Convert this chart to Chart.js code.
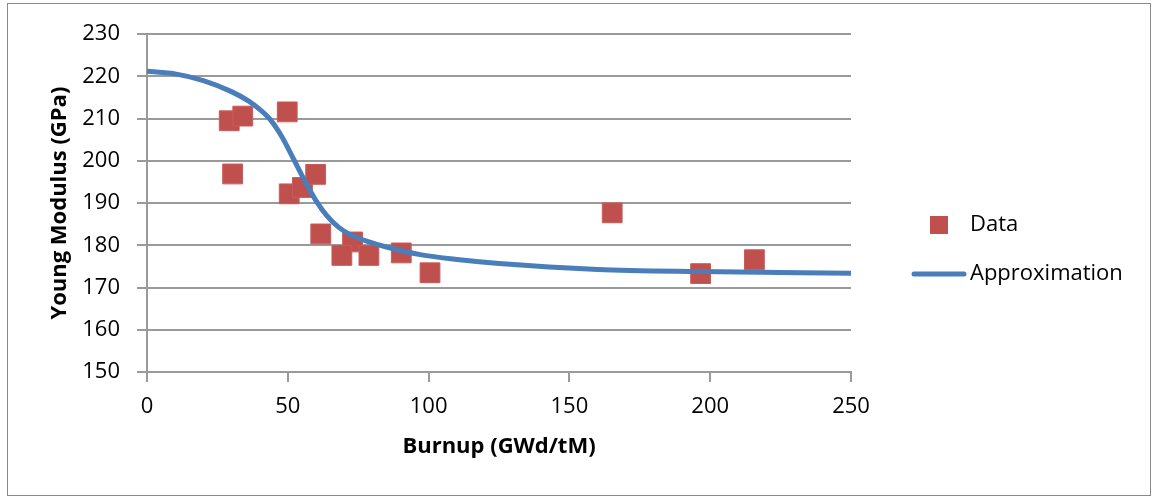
<!DOCTYPE html>
<html>
<head>
<meta charset="utf-8">
<script src="https://cdn.jsdelivr.net/npm/chart.js@4"></script>
<style>
html,body{margin:0;padding:0;background:#fff;}
#frame{position:absolute;left:7px;top:3px;width:1144px;height:493px;box-sizing:border-box;border:1px solid #8a8a8a;background:#fff;}
#c{display:block;}
</style>
</head>
<body>
<div id="frame"><canvas id="c" width="1142" height="491"></canvas></div>
<script>
// ---- data ----
const burnupData  = [29.2, 34.0, 49.8, 30.4, 50.5, 55.2, 59.9, 61.7, 73.0, 69.2, 78.8, 90.3, 100.5, 165.2, 196.6, 215.7];
const modulusData = [209.5, 210.6, 211.6, 196.9, 192.2, 193.7, 196.8, 182.7, 180.8, 177.6, 177.6, 178.2, 173.5, 187.7, 173.3, 176.6];
const burnupFit   = [0, 10, 20, 30, 36, 40, 44, 48, 52, 56, 60, 64, 68, 72, 78, 85, 97, 111, 125, 160, 196, 250];
const modulusFit  = [221.2, 220.6, 219.0, 216.4, 214.2, 212.2, 209.6, 205.6, 200.5, 195.3, 190.6, 186.9, 184.3, 182.6, 181.0, 179.6, 177.8, 176.6, 175.7, 174.3, 173.8, 173.4];
const xTickValues = [0, 50, 100, 150, 200, 250];
const yTickValues = [150, 160, 170, 180, 190, 200, 210, 220, 230];
const seriesNames = ['Data', 'Approximation'];
const xTitle = 'Burnup (GWd/tM)';
const yTitle = 'Young Modulus (GPa)';

// ---- styling ----
const RED = '#C0504D';
const BLUE = '#4A7EBB';
const GRID = '#9a9a9a';
const TEXT = '#000000';
const FAMILY = '"Open Sans", "DejaVu Sans", sans-serif';
Chart.defaults.font.family = FAMILY;
const tickFont = {family: FAMILY, size: 22};
const titleFont = {family: FAMILY, size: 22, weight: 'bold'};
const legendFont = {family: FAMILY, size: 22};

function legendSquare() {
  const c = document.createElement('canvas');
  c.width = 18; c.height = 18;
  const g = c.getContext('2d');
  g.fillStyle = RED; g.fillRect(0, 0, 18, 18);
  return c;
}
function legendLine() {
  const c = document.createElement('canvas');
  c.width = 56; c.height = 8;
  const g = c.getContext('2d');
  g.strokeStyle = BLUE; g.lineWidth = 5; g.lineCap = 'round';
  g.beginPath(); g.moveTo(3, 4); g.lineTo(53, 4); g.stroke();
  return c;
}

// layout targets (canvas coords)
const CANVAS_W = 1142;
const PLOT_RIGHT = 843;
const RIGHT_GAP = 41;
const LEG_PAD = 27, LEG_BOX = 40;
const mctx = document.createElement('canvas').getContext('2d');
mctx.font = '22px ' + FAMILY;
const textW = Math.max(...seriesNames.map(s => mctx.measureText(s).width));
const legendW = LEG_PAD + (LEG_BOX + 11 + textW) + 10;
const padRight = Math.max(0, CANVAS_W - PLOT_RIGHT - RIGHT_GAP - legendW);

const legendIcons = [legendSquare(), legendLine()];

new Chart(document.getElementById('c'), {
  type: 'scatter',
  data: {
    datasets: [
      {
        label: seriesNames[0],
        data: burnupData.map((x, i) => ({x, y: modulusData[i]})),
        pointStyle: 'rect',
        pointRadius: 14,
        pointHoverRadius: 14,
        backgroundColor: RED,
        borderColor: '#C65D5A',
        borderWidth: 1,
        showLine: false,
        order: 2
      },
      {
        label: seriesNames[1],
        data: burnupFit.map((x, i) => ({x, y: modulusFit[i]})),
        showLine: true,
        pointRadius: 0,
        pointHoverRadius: 0,
        borderColor: BLUE,
        backgroundColor: BLUE,
        borderWidth: 5,
        cubicInterpolationMode: 'monotone',
        fill: false,
        order: 1
      }
    ]
  },
  options: {
    responsive: false,
    animation: false,
    devicePixelRatio: 1,
    layout: {padding: {left: 0, top: 0, bottom: 0, right: padRight}},
    plugins: {
      tooltip: {enabled: false},
      legend: {
        position: 'right',
        align: 'center',
        maxWidth: 600,
        labels: {
          usePointStyle: true,
          pointStyleWidth: LEG_BOX,
          padding: LEG_PAD,
          font: legendFont,
          color: TEXT,
          sort: (a, b) => a.datasetIndex - b.datasetIndex,
          generateLabels(chart) {
            const items = Chart.defaults.plugins.legend.labels.generateLabels(chart);
            items.forEach(it => { it.pointStyle = legendIcons[it.datasetIndex]; });
            return items;
          }
        }
      }
    },
    scales: {
      x: {
        type: 'linear', position: 'bottom', min: 0, max: 250,
        afterBuildTicks: s => { s.ticks = xTickValues.map(v => ({value: v})); },
        ticks: {font: tickFont, color: TEXT, padding: 12, maxRotation: 0, autoSkip: false},
        grid: {display: true, drawOnChartArea: false, drawTicks: true, tickLength: 10, color: GRID, lineWidth: 2},
        border: {display: true, color: GRID, width: 2},
        title: {display: true, text: xTitle, font: titleFont, color: TEXT, padding: {top: 0, bottom: 35}},
        afterFit: s => { s.height = 123; }
      },
      y: {
        type: 'linear', position: 'left', min: 150, max: 230,
        afterBuildTicks: s => { s.ticks = yTickValues.map(v => ({value: v})); },
        ticks: {font: tickFont, color: TEXT, padding: 17, autoSkip: false},
        grid: {display: true, drawOnChartArea: true, drawTicks: true, tickLength: 10, color: GRID, lineWidth: 2},
        border: {display: true, color: GRID, width: 2},
        title: {display: true, text: yTitle, font: titleFont, color: TEXT, padding: {top: 39, bottom: 0}},
        afterFit: s => { s.width = 139; }
      },
      xSpacer: {
        axis: 'x', type: 'linear', position: 'top', display: true,
        grid: {display: false}, border: {display: false}, ticks: {display: false},
        afterFit: s => { s.height = 29; }
      },
      ySpacer: {
        axis: 'y', type: 'linear', position: 'right', display: true,
        grid: {display: false}, border: {display: false}, ticks: {display: false},
        afterFit: s => { s.width = RIGHT_GAP; }
      }
    }
  }
});
</script>
</body>
</html>
